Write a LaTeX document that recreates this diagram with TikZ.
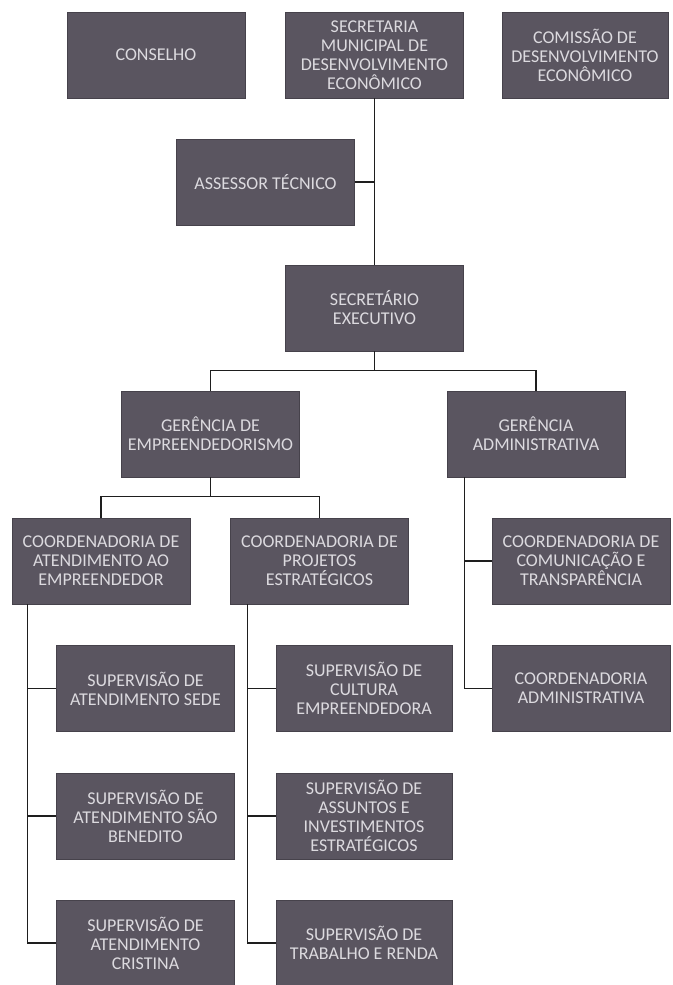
\documentclass[tikz,border=0pt]{standalone}
\usepackage{fontspec}
\setmainfont{Carlito}
\definecolor{boxgray}{HTML}{5A5560}
\definecolor{boxedge}{HTML}{46424B}
\definecolor{boxtext}{HTML}{DCDADF}
\definecolor{linegray}{HTML}{1E1E1E}
\tikzset{
  unit/.style={draw=boxedge, fill=boxgray, text=boxtext, align=center,
    minimum width=178pt, minimum height=86pt, inner sep=2pt,
    font=\fontsize{18}{19}\selectfont},
  link/.style={draw=linegray, line width=1.3pt}
}
\begin{document}
\begin{tikzpicture}[x=1pt,y=-1pt]
  \useasboundingbox (0,0) rectangle (672,985);
  % Top row
  \node[unit] (conselho) at (156,55) {CONSELHO};
  \node[unit] (sedec) at (374.5,55) {SECRETARIA\\MUNICIPAL DE\\DESENVOLVIMENTO\\ECONÔMICO};
  \node[unit, minimum width=166pt] (comissao) at (585,55) {COMISSÃO DE\\DESENVOLVIMENTO\\ECONÔMICO};
  % Staff and executive
  \node[unit] (assessor) at (265.5,182) {ASSESSOR TÉCNICO};
  \node[unit] (secexec) at (374.5,308) {SECRETÁRIO\\EXECUTIVO};
  % Management
  \node[unit] (geremp) at (210.5,434) {GERÊNCIA DE\\EMPREENDEDORISMO};
  \node[unit] (geradm) at (536,434) {GERÊNCIA\\ADMINISTRATIVA};
  % Coordinations
  \node[unit] (coordatend) at (101,561) {COORDENADORIA DE\\ATENDIMENTO AO\\EMPREENDEDOR};
  \node[unit] (coordproj) at (319.5,561) {COORDENADORIA DE\\PROJETOS\\ESTRATÉGICOS};
  \node[unit] (coordcom) at (581,561) {COORDENADORIA DE\\COMUNICAÇÃO E\\TRANSPARÊNCIA};
  \node[unit] (coordadm) at (581,688.5) {COORDENADORIA\\ADMINISTRATIVA};
  % Supervisions
  \node[unit] (supsede) at (145.5,688.5) {SUPERVISÃO DE\\ATENDIMENTO SEDE};
  \node[unit] (supsb) at (145.5,816) {SUPERVISÃO DE\\ATENDIMENTO SÃO\\BENEDITO};
  \node[unit] (supcris) at (145.5,943) {SUPERVISÃO DE\\ATENDIMENTO\\CRISTINA};
  \node[unit, minimum width=176pt] (supcult) at (364,688.5) {SUPERVISÃO DE\\CULTURA\\EMPREENDEDORA};
  \node[unit, minimum width=176pt] (supassun) at (364,816) {SUPERVISÃO DE\\ASSUNTOS E\\INVESTIMENTOS\\ESTRATÉGICOS};
  \node[unit, minimum width=176pt] (suptrab) at (364,943) {SUPERVISÃO DE\\TRABALHO E RENDA};

  % Draw links
  \draw[link] (sedec.south) -- (secexec.north);
  \draw[link] (assessor.east) -- (assessor.east -| sedec.south);
  \draw[link] (secexec.south) -- ++(0,20);
  \draw[link] (geremp.north) |- ++(0,-20) -| (geradm.north);
  \draw[link] (geremp.south) -- ++(0,20);
  \draw[link] (coordatend.north) |- ++(0,-21) -| (coordproj.north);
  \draw[link] ([xshift=18pt]geradm.south west) |- (coordcom.west);
  \draw[link] ([xshift=18pt]geradm.south west) |- (coordadm.west);
  \draw[link] ([xshift=16pt]coordatend.south west) |- (supsede.west);
  \draw[link] ([xshift=16pt]coordatend.south west) |- (supsb.west);
  \draw[link] ([xshift=16pt]coordatend.south west) |- (supcris.west);
  \draw[link] ([xshift=17pt]coordproj.south west) |- (supcult.west);
  \draw[link] ([xshift=17pt]coordproj.south west) |- (supassun.west);
  \draw[link] ([xshift=17pt]coordproj.south west) |- (suptrab.west);
\end{tikzpicture}
\end{document}
